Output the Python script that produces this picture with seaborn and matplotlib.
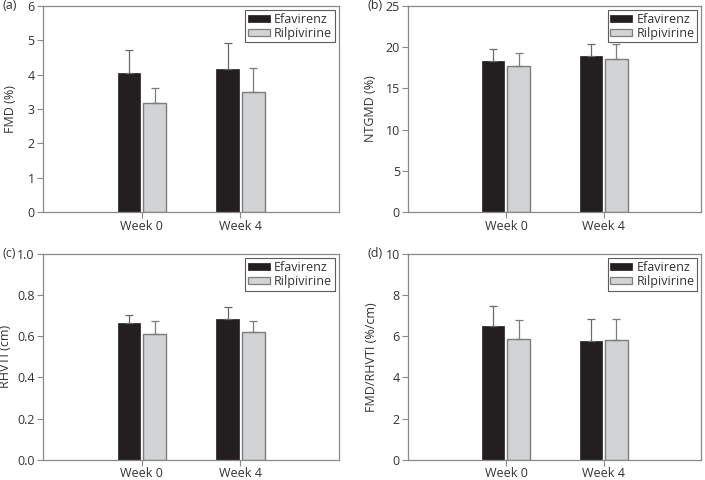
"""Four-panel bar chart comparing Efavirenz and Rilpivirine at week 0 and week 4."""

import pandas as pd
import matplotlib.pyplot as plt
import seaborn as sns

weeks=["Week 0","Week 4"]
drugs=["Efavirenz","Rilpivirine"]

fmd_efa=[4.05,4.15]; fmd_efa_err=[0.67,0.77]
fmd_ril=[3.16,3.48]; fmd_ril_err=[0.45,0.72]
ntg_efa=[18.3,18.9]; ntg_efa_err=[1.5,1.45]
ntg_ril=[17.7,18.6]; ntg_ril_err=[1.6,1.8]
rhv_efa=[0.664,0.683]; rhv_efa_err=[0.037,0.06]
rhv_ril=[0.611,0.620]; rhv_ril_err=[0.063,0.054]
rat_efa=[6.51,5.78]; rat_efa_err=[0.95,1.04]
rat_ril=[5.86,5.82]; rat_ril_err=[0.93,1.0]

panels=[
    ("(a)","FMD (%)",fmd_efa,fmd_efa_err,fmd_ril,fmd_ril_err,[0,1,2,3,4,5,6],"%d"),
    ("(b)","NTGMD (%)",ntg_efa,ntg_efa_err,ntg_ril,ntg_ril_err,[0,5,10,15,20,25],"%d"),
    ("(c)","RHVTI (cm)",rhv_efa,rhv_efa_err,rhv_ril,rhv_ril_err,[0,0.2,0.4,0.6,0.8,1.0],"%.1f"),
    ("(d)","FMD/RHVTI (%/cm)",rat_efa,rat_efa_err,rat_ril,rat_ril_err,[0,2,4,6,8,10],"%d"),
]

positions=[[0.061,0.558,0.420,0.430],[0.579,0.558,0.416,0.430],
           [0.061,0.042,0.420,0.429],[0.579,0.042,0.416,0.429]]
label_x=[-0.088,-0.106,-0.105,-0.102]   # where each y label sits, axes fraction

edge="#8a8a8a"
text_col="#333333"
dark="#231f20"
light="#d1d3d4"

sns.set_style("white")
plt.rcParams['font.family']=['Open Sans','DejaVu Sans']
plt.rcParams['font.size']=9

fig=plt.figure(figsize=(7.05,4.8),dpi=100)

for (label,ylabel,efa,efa_err,ril,ril_err,yticks,fmt),pos,lx in zip(panels,positions,label_x):
    ax=fig.add_axes(pos)
    df=pd.DataFrame({"week":weeks*2,"drug":[drugs[0]]*2+[drugs[1]]*2,
                     "value":efa+ril,"err":efa_err+ril_err})
    sns.barplot(data=df,x="week",y="value",hue="drug",hue_order=drugs,
                palette=[dark,light],width=0.52,gap=0.12,
                errorbar=None,ax=ax,saturation=1)
    # style bars and draw upward-only error bars
    for p in ax.patches:
        if p.get_facecolor()[0]>0.5:
            p.set_edgecolor("#7d7d7d"); p.set_linewidth(1.0)
        else:
            p.set_edgecolor(dark); p.set_linewidth(0.5)
    bars=[p for p in ax.patches if p.get_height()>0 and p.get_width()<0.5]
    bars=sorted(bars,key=lambda b:(b.get_facecolor()[0]>0.5,b.get_x()))
    for p,e in zip(bars,efa_err+ril_err):
        xc=p.get_x()+p.get_width()/2
        col="#6a6a6a" if p.get_facecolor()[0]<0.5 else "#7d7d7d"
        ax.errorbar(xc,p.get_height(),yerr=[[0],[e]],fmt="none",ecolor=col,
                    elinewidth=0.9,capsize=3,capthick=0.9,zorder=1)
    ax.set_xlim(-1,2)
    ax.set_ylim(yticks[0],yticks[-1])
    ax.set_yticks(yticks)
    ax.set_yticklabels([fmt%t for t in yticks])
    ax.set_xlabel("")
    ax.set_ylabel(ylabel,color=text_col,fontsize=9)
    ax.yaxis.set_label_coords(lx,0.5)
    for s in ax.spines.values():
        s.set_color(edge); s.set_linewidth(0.9); s.set_visible(True)
    ax.tick_params(axis="both",direction="out",length=4,width=0.8,color=edge,
                   labelcolor=text_col,labelsize=9,left=True,bottom=True)
    ax.tick_params(axis="x",pad=1.5)
    ax.tick_params(axis="y",pad=2)
    leg=ax.legend(loc="upper right",frameon=True,fancybox=False,fontsize=9,
                  handlelength=1.75,handleheight=0.45,borderpad=0.2,labelspacing=0.1,
                  handletextpad=0.35,borderaxespad=0.35)
    leg.get_frame().set_edgecolor("#333333")
    leg.get_frame().set_linewidth(0.8)
    for h in leg.legend_handles:
        if h.get_facecolor()[0]>0.5:
            h.set_edgecolor("#7d7d7d"); h.set_linewidth(0.9)
        else:
            h.set_edgecolor(dark); h.set_linewidth(0.5)
    for t in leg.get_texts():
        t.set_color(text_col)
    fig.text(pos[0]-0.058,pos[1]+pos[3],label,ha="left",va="center",color=text_col,fontsize=9)

plt.savefig("out.png",dpi=100)
plt.close()
